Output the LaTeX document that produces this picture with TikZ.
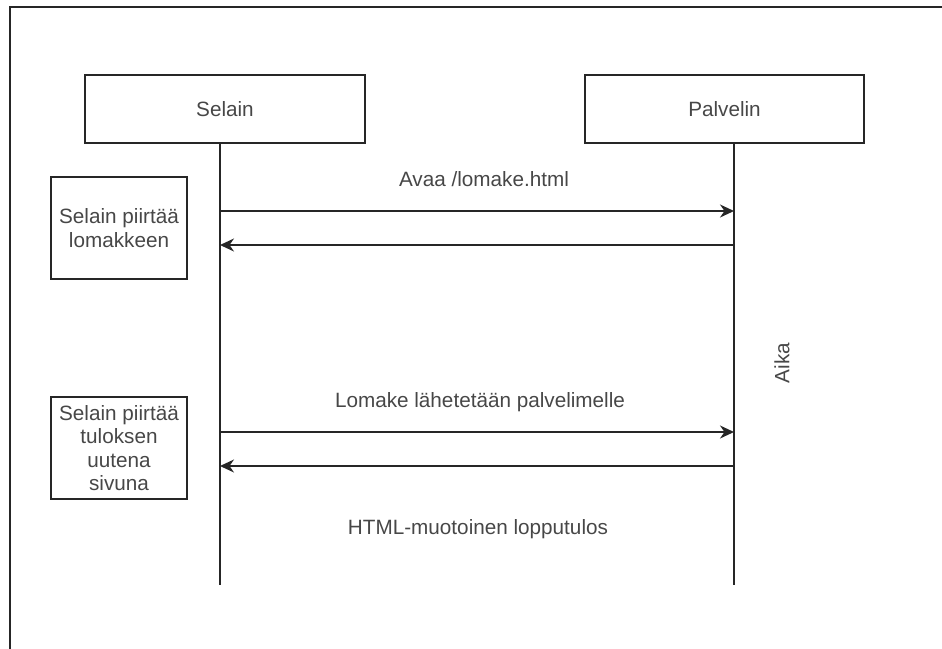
\documentclass[tikz,border=0pt]{standalone}
\usepackage{fontspec}
\setmainfont{Liberation Sans}
\usetikzlibrary{arrows.meta}

\definecolor{ink}{HTML}{262626}
\definecolor{txt}{HTML}{474747}

\tikzset{
  lane/.style={draw=ink, line width=1.8pt, minimum width=280pt, minimum height=68pt,
    inner sep=0pt, text=txt, font=\fontsize{20.7}{23.7}\selectfont},
  note/.style={draw=ink, line width=1.8pt, minimum width=136pt, inner sep=0pt,
    text=txt, align=center, font=\fontsize{20.7}{23.6}\selectfont},
  lifeline/.style={draw=ink, line width=1.8pt},
  msg/.style={draw=ink, line width=1.8pt,
    -{Stealth[length=14pt, width=13pt, inset=4.5pt]}},
  lbl/.style={text=txt, inner sep=0pt, anchor=base, font=\fontsize{20.7}{23.7}\selectfont},
}

\begin{document}
\begin{tikzpicture}[x=1pt, y=-1pt]
  \useasboundingbox (0,0) rectangle (942,648);

  % outer frame (runs past the page on the right and bottom)
  \draw[ink, line width=1.8pt] (10,7) rectangle (980,700);

  % participants
  \node[lane] (sel) at (225,109) {Selain};
  \node[lane, minimum width=279pt] (pal) at (724.5,109) {Palvelin};

  % lifelines
  \coordinate (selTop) at (220,143);
  \coordinate (selEnd) at (220,585);
  \coordinate (palTop) at (734,143);
  \coordinate (palEnd) at (734,585);
  \draw[lifeline] (selTop) -- (selEnd);
  \draw[lifeline] (palTop) -- (palEnd);

  % message anchor points on the lifelines
  \coordinate (s1) at (220,211);  \coordinate (p1) at (734,211);
  \coordinate (s2) at (220,245);  \coordinate (p2) at (734,245);
  \coordinate (s3) at (220,432);  \coordinate (p3) at (734,432);
  \coordinate (s4) at (220,466);  \coordinate (p4) at (734,466);

  % messages
  \draw[msg] (s1) -- (p1);
  \draw[msg] (p2) -- (s2);
  \draw[msg] (s3) -- (p3);
  \draw[msg] (p4) -- (s4);

  % message labels
  \node[lbl] (m1) at (484,186) {Avaa /lomake.html};
  \node[lbl] (m3) at (480,407) {Lomake lähetetään palvelimelle};
  \node[lbl] (m4) at (478,534) {HTML-muotoinen lopputulos};

  % notes on the browser side
  \node[note, minimum height=102pt] (n1) at (119,228) {Selain piirtää\\lomakkeen};
  \node[note, minimum height=102pt] (n2) at (119,448) {Selain piirtää\\tuloksen\\uutena\\sivuna};

  % time axis label
  \node[text=txt, rotate=90, inner sep=0pt, font=\fontsize{20.7}{23.7}\selectfont] (aika) at (782,363) {Aika};
\end{tikzpicture}
\end{document}
